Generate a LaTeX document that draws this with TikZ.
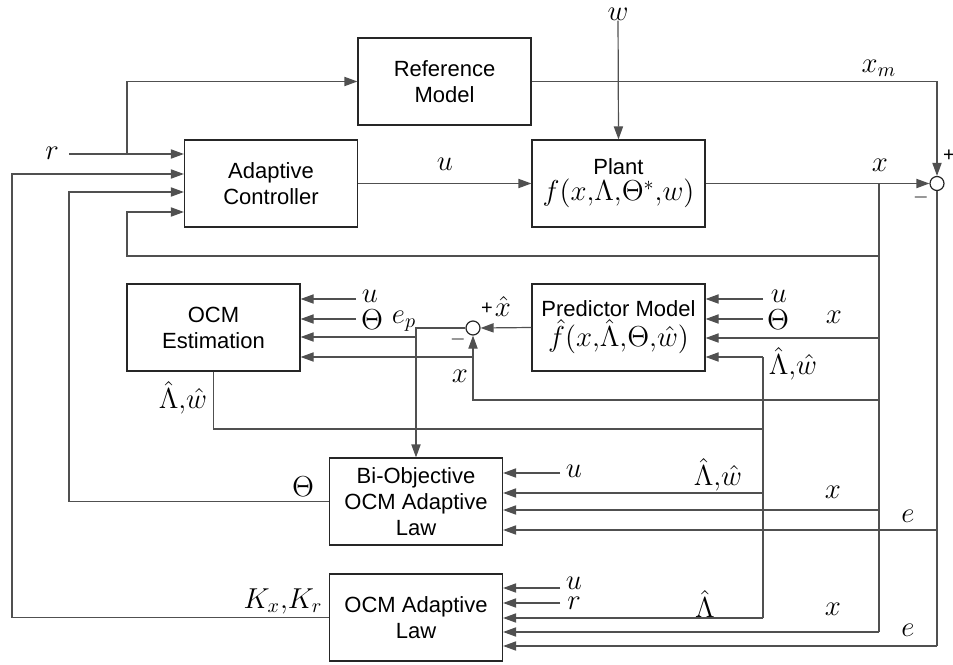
\documentclass[tikz,border=0pt]{standalone}
\usepackage[no-math]{fontspec}
\setmainfont{Liberation Sans}
\usepackage{amsmath}
\usetikzlibrary{arrows.meta,calc,positioning}
\definecolor{WireGray}{RGB}{80,80,80}

\begin{document}
\begin{tikzpicture}[
  x=0.5pt, y=-0.5pt,
  font=\fontsize{11}{13}\selectfont,
  >={Triangle[length=6.5pt,width=4.6pt]},
  block/.style={draw=black!85, line width=0.6pt, minimum width=86.5pt,
    minimum height=43.5pt, inner sep=0pt, align=center},
  sumpt/.style={draw=black!85, circle, line width=0.6pt, minimum size=7pt,
    inner sep=0pt, fill=white},
  wire/.style={draw=WireGray, line width=0.6pt},
  lab/.style={font=\fontsize{14.4}{17}\selectfont, inner sep=0pt},
  sgn/.style={font=\fontsize{10}{12}\selectfont, inner sep=0pt},
]
  \useasboundingbox (0,0) rectangle (953,664);

  % blocks
  \node[block] (refm) at (444.5,81.5) {Reference\\Model};
  \node[block] (ctrl) at (271,183.5) {Adaptive\\Controller};
  \node[block] (plant) at (618.5,183.5)
    {Plant\\{\fontsize{14.4}{17}\selectfont$f(x{,}\Lambda{,}\Theta^{*}{,}w)$}};
  \node[block] (est) at (213.5,327.5) {OCM\\Estimation};
  \node[block] (pred) at (618.5,327.5)
    {Predictor Model\\{\fontsize{14.4}{17}\selectfont$\hat{f}(x{,}\hat{\Lambda}{,}\Theta{,}\hat{w})$}};
  \node[block] (biobj) at (416,501.5) {Bi-Objective\\OCM Adaptive\\Law};
  \node[block] (ocm) at (416,617.5) {OCM Adaptive\\Law};

  % summing points
  \node[sumpt] (sum1) at (937,183.5) {};
  \node[sumpt] (sum2) at (473,328) {};

  % reference input
  \node[lab] (rlab) at (52,153) {$r$};
  \coordinate (rin) at (69,154);
  \coordinate (rbr) at (127,154);
  \draw[wire,->] (rin) -- (rin -| ctrl.west);
  \draw[wire,->] (rbr) |- (refm.west);

  % forward path
  \draw[wire,->] (ctrl.east) -- (plant.west);
  \node[lab] (ulab) at (445,164) {$u$};
  \node[lab] (wlab) at (618,14) {$w$};
  \draw[wire,->] (wlab) -- (plant.north);
  \draw[wire,->] (refm.east) -| (sum1.north);
  \node[lab] (xmlab) at (879,68) {$x_m$};
  \draw[wire,->] (plant.east) -- (sum1.west);
  \node[lab] (xlab1) at (880,165) {$x$};
  \node[sgn] (p1) at (949,156) {+};
  \node[sgn] (m1) at (921,197) {$-$};

  % x bus
  \coordinate (xbr) at (879,183.5);
  \coordinate (xa) at (879,256);
  \coordinate (xb) at (879,338);
  \coordinate (xc) at (879,400);
  \coordinate (xd) at (879,510);
  \coordinate (xe) at (879,632);
  \coordinate (fbx) at (127,212);
  \draw[wire] (xbr) -- (xe);
  \draw[wire,->] (xa) -| (fbx) -- (fbx -| ctrl.west);
  \draw[wire,->] (xb) -- (xb -| pred.east);
  \draw[wire,->] (xc) -| (sum2.south);
  \draw[wire,->] (xd) -- (xd -| biobj.east);
  \draw[wire,->] (xe) -- (xe -| ocm.east);
  \coordinate (xf) at (473,357);
  \draw[wire,->] (xf) -- (xf -| est.east);
  \node[lab] (xlab2) at (834,317) {$x$};
  \node[lab] (xlab3) at (460,376) {$x$};
  \node[lab] (xlab4) at (833,492) {$x$};
  \node[lab] (xlab5) at (833,609) {$x$};

  % e bus
  \coordinate (ea) at (937,530);
  \coordinate (eb) at (937,646);
  \draw[wire] (sum1.south) -- (eb);
  \draw[wire,->] (ea) -- (ea -| biobj.east);
  \draw[wire,->] (eb) -- (eb -| ocm.east);
  \node[lab] (elab1) at (908,516) {$e$};
  \node[lab] (elab2) at (908,630) {$e$};

  % prediction error
  \draw[wire,->] (pred.west) -- (sum2.east);
  \node[sgn] (p2) at (487,309) {+};
  \node[lab] (xhlab) at (503,306) {$\hat{x}$};
  \node[sgn] (m2) at (458,339) {$-$};
  \coordinate (epa) at (416,337);
  \draw[wire,->] (sum2.west) -| (biobj.north);
  \draw[wire,->] (epa) -- (epa -| est.east);
  \node[lab] (eplab) at (404,321) {$e_p$};

  % u, Theta inputs
  \coordinate (estu) at (356,299);
  \coordinate (estth) at (356,319);
  \draw[wire,->] (estu) -- (estu -| est.east);
  \draw[wire,->] (estth) -- (estth -| est.east);
  \node[lab] (estulab) at (370,296) {$u$};
  \node[lab] (estthlab) at (372,320) {$\Theta$};
  \coordinate (predu) at (763,299);
  \coordinate (predth) at (763,319);
  \draw[wire,->] (predu) -- (predu -| pred.east);
  \draw[wire,->] (predth) -- (predth -| pred.east);
  \node[lab] (predulab) at (779,296) {$u$};
  \node[lab] (predthlab) at (778,320) {$\Theta$};
  \coordinate (bu) at (560,473);
  \draw[wire,->] (bu) -- (bu -| biobj.east);
  \node[lab] (bulab) at (574,471) {$u$};
  \coordinate (ou) at (560,588);
  \coordinate (orr) at (560,603);
  \draw[wire,->] (ou) -- (ou -| ocm.east);
  \draw[wire,->] (orr) -- (orr -| ocm.east);
  \node[lab] (oulab) at (574,583) {$u$};
  \node[lab] (orlab) at (574,603) {$r$};

  % estimates bus
  \coordinate (lw) at (763,429);
  \coordinate (la) at (763,357);
  \coordinate (lb) at (763,493);
  \coordinate (lc) at (763,618);
  \draw[wire] (est.south) |- (lw);
  \draw[wire] (la) -- (lc);
  \draw[wire,->] (la) -- (la -| pred.east);
  \draw[wire,->] (lb) -- (lb -| biobj.east);
  \draw[wire,->] (lc) -- (lc -| ocm.east);
  \node[lab] (lwlab1) at (183,398) {$\hat{\Lambda}{,}\hat{w}$};
  \node[lab] (lwlab2) at (793,364) {$\hat{\Lambda}{,}\hat{w}$};
  \node[lab] (lwlab3) at (718,475) {$\hat{\Lambda}{,}\hat{w}$};
  \node[lab] (llab) at (705,604) {$\hat{\Lambda}$};

  % adaptive law outputs
  \coordinate (thc) at (69,192);
  \coordinate (kc) at (12,174);
  \draw[wire,->] (biobj.west) -| (thc) -- (thc -| ctrl.west);
  \draw[wire,->] (ocm.west) -| (kc) -- (kc -| ctrl.west);
  \node[lab] (thlab) at (303,487) {$\Theta$};
  \node[lab] (klab) at (283,601) {$K_x{,}K_r$};
\end{tikzpicture}
\end{document}
